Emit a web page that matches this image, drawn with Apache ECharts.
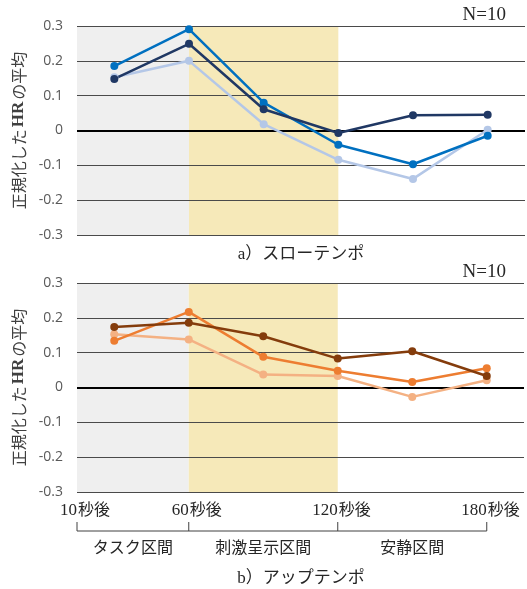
<!DOCTYPE html>
<html><head><meta charset="utf-8">
<script src="https://cdn.jsdelivr.net/npm/echarts@6/dist/echarts.min.js"></script>
<style>html,body{margin:0;padding:0;background:#fff}#c{width:527px;height:589px}</style>
</head><body><div id="c"></div>
<script>
// x positions of the six measurement points (half-step units; 0 = 10秒後, 3 = 60秒後, 7 = 120秒後, 11 = 180秒後)
const xPositions = [1, 3, 5, 7, 9, 11];
// a) slow tempo
const slowBlue  = [0.185, 0.291, 0.080, -0.041, -0.097, -0.015];
const slowNavy  = [0.148, 0.249, 0.061, -0.007, 0.044, 0.045];
const slowLight = [0.153, 0.200, 0.018, -0.084, -0.139, 0.002];
// b) up tempo
const upOrange = [0.134, 0.217, 0.088, 0.048, 0.016, 0.055];
const upBrown  = [0.174, 0.186, 0.147, 0.083, 0.104, 0.033];
const upLight  = [0.153, 0.138, 0.037, 0.033, -0.027, 0.021];
// tick labels
const tickValues = [0, 3, 7, 11];
const tickNumbers = ['10', '60', '120', '180'];
const tickSuffix = '秒後';
const sectionNames = ['タスク区間', '刺激呈示区間', '安静区間'];
const yMin = -0.3, yMax = 0.3, yStep = 0.1;

const serif = 'Liberation Serif';
const jp = 'Noto Sans CJK JP';

function pairs(vals) { return xPositions.map((x, i) => [x, vals[i]]); }

function yAxis(gi) {
  return {
    type: 'value', gridIndex: gi, min: yMin, max: yMax, interval: yStep, z: 1,
    axisLine: { show: false }, axisTick: { show: false },
    axisLabel: { color: '#595959', fontSize: 14, fontFamily: 'Open Sans', margin: 14,
      formatter: v => (Math.abs(v) < 1e-9 ? '0' : v.toFixed(1)) },
    splitLine: { lineStyle: { color: '#4a4a4a', width: 1 } },
    name: '{a|正規化した}{b|HR}{a|の平均}',
    nameLocation: 'middle', nameGap: 50, nameRotate: 90,
    nameTextStyle: { rich: {
      a: { fontFamily: jp, fontSize: 16, color: '#404040' },
      b: { fontFamily: serif, fontSize: 17, fontWeight: 'bold', color: '#404040', padding: [0, 2, 0, 2] }
    } }
  };
}

function line(name, data, color, xi, extra) {
  return Object.assign({
    name, type: 'line', xAxisIndex: xi, yAxisIndex: xi === 0 ? 0 : 1, data: pairs(data),
    symbol: 'circle', symbolSize: 8, lineStyle: { color, width: 2.5 },
    itemStyle: { color }, animation: false, z: 3
  }, extra || {});
}

function areas() {
  return {
    silent: true, z: 0,
    data: [
      [{ xAxis: 0, itemStyle: { color: '#efefef' } }, { xAxis: 3 }],
      [{ xAxis: 3, itemStyle: { color: '#f6e9b9' } }, { xAxis: 7 }]
    ]
  };
}
function zeroLine() {
  return { silent: true, symbol: 'none', z: 2, label: { show: false },
    lineStyle: { color: '#000', width: 2, type: 'solid' }, data: [{ yAxis: 0 }] };
}

function xAxisBottom(isNumber) {
  return { type: 'value', gridIndex: 1, position: 'bottom', offset: 0, min: 0, max: 12, interval: 1,
    axisLine: { show: false }, axisTick: { show: false }, splitLine: { show: false },
    axisLabel: { interval: 0, margin: 9, showMinLabel: true, showMaxLabel: true,
      align: isNumber ? 'right' : 'left',
      fontFamily: isNumber ? serif : jp, fontSize: isNumber ? 17 : 16, color: '#262626',
      padding: isNumber ? [1, 0, 0, 0] : [0, 0, 0, 1],
      formatter: v => {
        const i = tickValues.indexOf(v);
        return i < 0 ? '' : (isNumber ? tickNumbers[i] : tickSuffix);
      } } };
}

const option = {
  animation: false,
  grid: [
    { left: 77, right: 2, top: 26, height: 209 },
    { left: 77, right: 2, top: 283, height: 209 }
  ],
  xAxis: [
    { type: 'value', gridIndex: 0, min: 0, max: 12, interval: 1,
      axisLine: { show: false }, axisTick: { show: false }, axisLabel: { show: false }, splitLine: { show: false } },
    xAxisBottom(true),
    xAxisBottom(false)
  ],
  yAxis: [yAxis(0), yAxis(1)],
  series: [
    line('slowLight', slowLight, '#b4c7e7', 0, { markArea: areas(), markLine: zeroLine() }),
    line('slowBlue', slowBlue, '#0070c0', 0),
    line('slowNavy', slowNavy, '#203864', 0),
    line('upLight', upLight, '#f4b183', 1, { markArea: areas(), markLine: zeroLine() }),
    line('upOrange', upOrange, '#ed7d31', 1),
    line('upBrown', upBrown, '#843c0c', 1)
  ]
};

const chart = echarts.init(document.getElementById('c'), null, { renderer: 'canvas' });
chart.setOption(option);

// annotations positioned through the axes
const px = v => chart.convertToPixel({ xAxisIndex: 1 }, v);
const gfx = [];
const bracketY = 531, bracketTop = 522;
gfx.push({ type: 'line', shape: { x1: px(tickValues[0]), y1: bracketY, x2: px(tickValues[3]), y2: bracketY },
  style: { stroke: '#404040', lineWidth: 1 } });
tickValues.forEach(v => {
  gfx.push({ type: 'line', shape: { x1: px(v), y1: bracketTop, x2: px(v), y2: bracketY },
    style: { stroke: '#404040', lineWidth: 1 } });
});
sectionNames.forEach((s, i) => {
  gfx.push({ type: 'text', x: (px(tickValues[i]) + px(tickValues[i + 1])) / 2, y: 547,
    style: { text: s, fontFamily: jp, fontSize: 16, fill: '#262626', align: 'center', verticalAlign: 'middle' } });
});
const cx = (chart.convertToPixel({ xAxisIndex: 0 }, 0) + chart.convertToPixel({ xAxisIndex: 0 }, 12)) / 2;
[['a）スローテンポ', 255], ['b）アップテンポ', 579]].forEach(([t, y]) => {
  gfx.push({ type: 'text', x: cx, y, style: { text: t, fontFamily: serif + ',' + jp, fontSize: 17, fill: '#262626', align: 'center', verticalAlign: 'middle' } });
});
[15, 272].forEach(y => {
  gfx.push({ type: 'text', x: 506, y, style: { text: 'N=10', fontFamily: serif, fontSize: 19, fill: '#262626', align: 'right', verticalAlign: 'middle' } });
});
chart.setOption({ graphic: gfx });
</script>
</body></html>
